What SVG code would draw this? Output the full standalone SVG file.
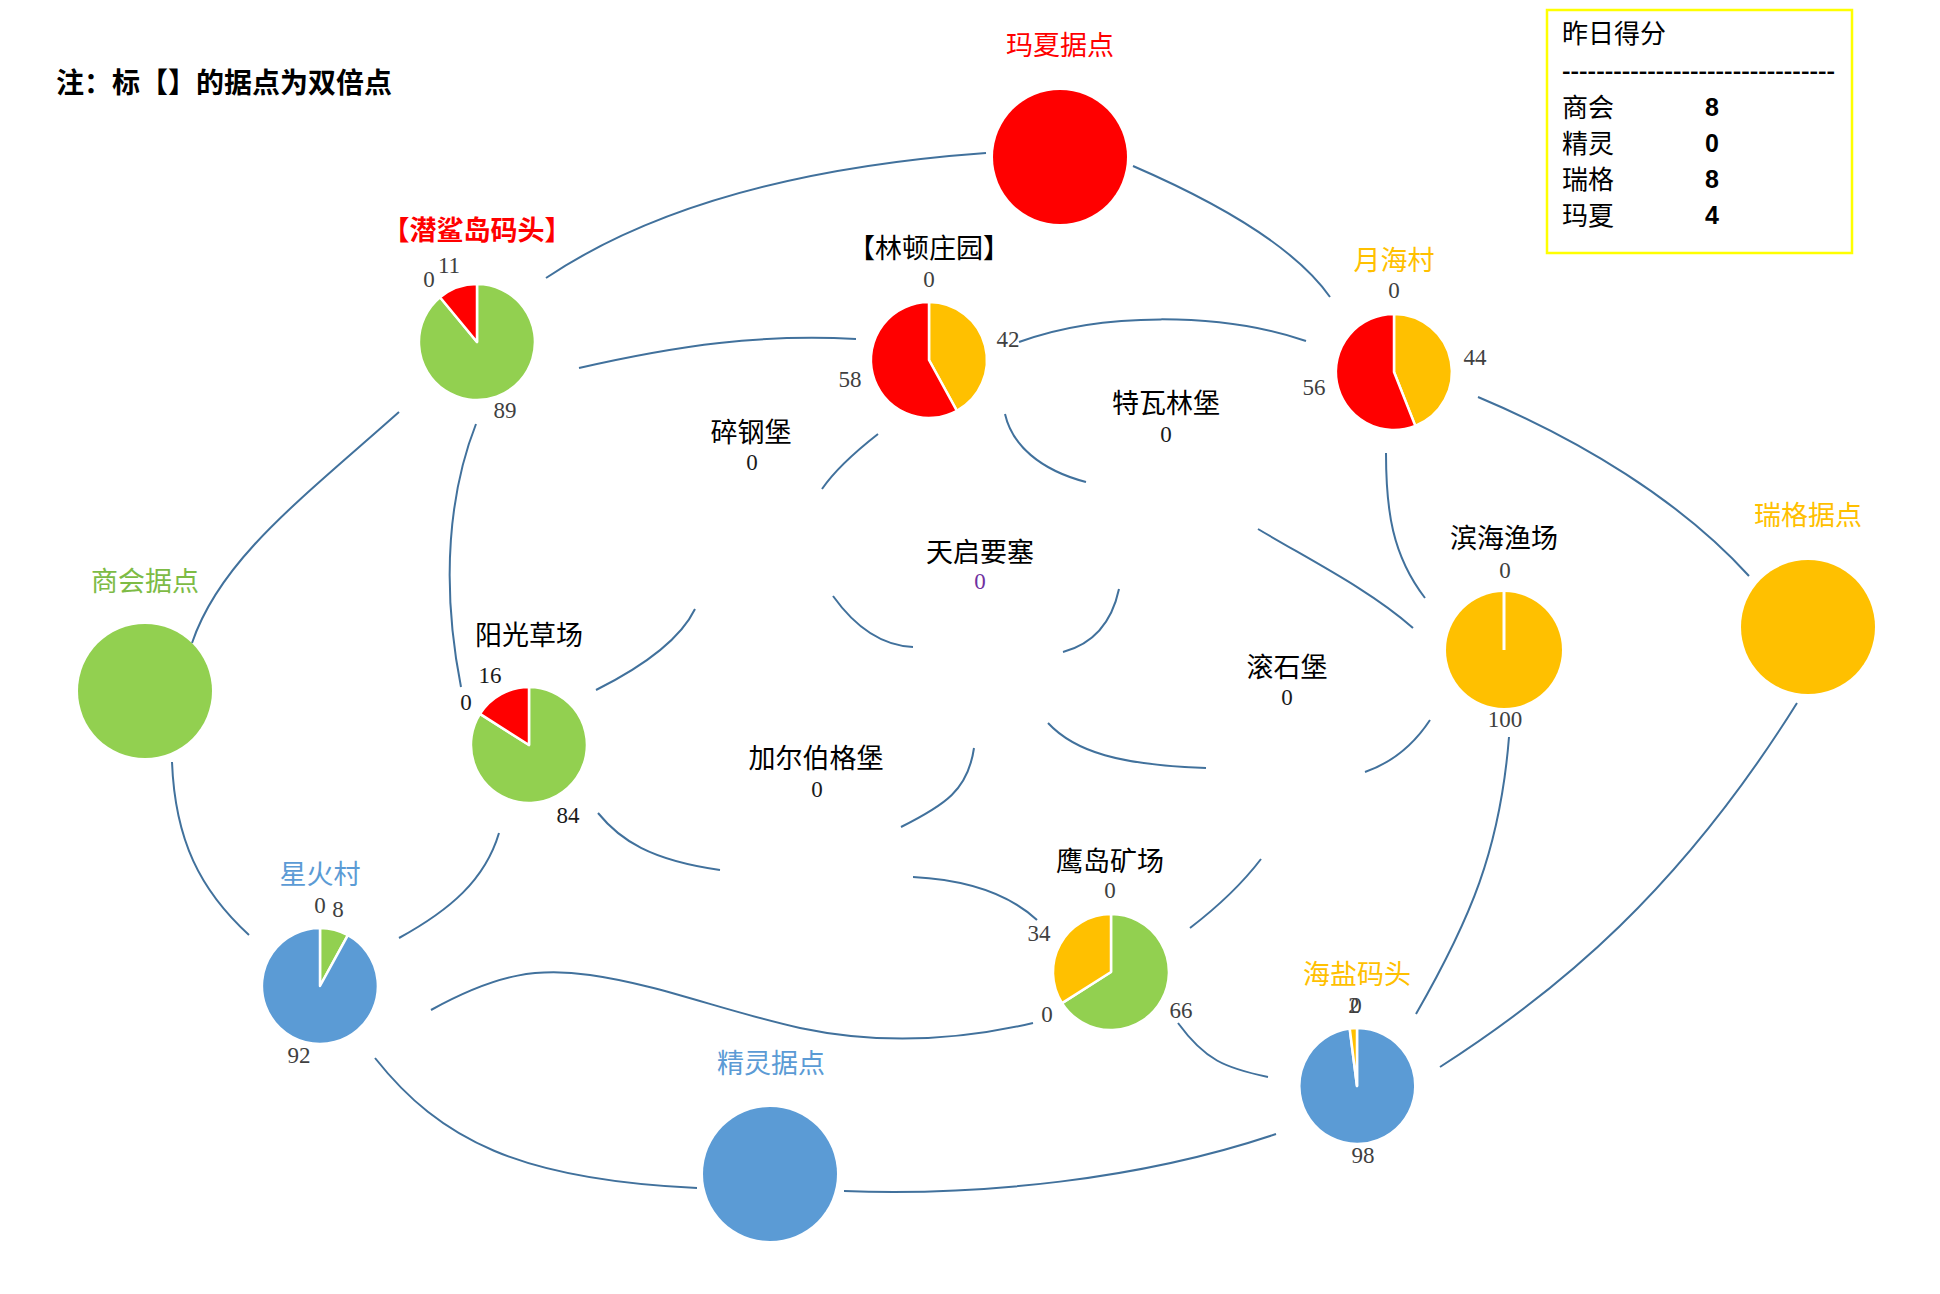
<svg xmlns="http://www.w3.org/2000/svg" width="1940" height="1294" viewBox="0 0 1940 1294">
<style>
.t{font-family:"Liberation Serif","Noto Sans CJK SC",serif;font-size:27px;text-anchor:middle;fill:#000}
.n{font-family:"Liberation Serif","Noto Sans CJK SC",serif;font-size:23px;text-anchor:middle;fill:#404040}
.k{fill:#1a1a1a}
.g{fill:#92D050}.r{fill:#FF0000}.y{fill:#FFC000}.b{fill:#5B9BD5}
.tg{fill:#7DBB45}.tr{fill:#FF0000}.ty{fill:#FFC000}.tb{fill:#5B9BD5}
.s{stroke:#fff;stroke-width:2.5;stroke-linejoin:round}
.c path{fill:none;stroke:#41719C;stroke-width:2}
.box{font-family:"Liberation Serif","Noto Sans CJK SC",serif;font-size:26px;fill:#000}
.sc{font-family:"Liberation Sans",Arial,sans-serif;font-size:25px;font-weight:bold;text-anchor:middle;fill:#000}
</style>
<rect width="1940" height="1294" fill="#fff"/>
<g id="connectors" class="c">
<path d="M546,278 C640,215 780,168 986,153"/>
<path d="M579,368 C680,345 760,334 856,339"/>
<path d="M399,412 C300,500 220,560 192,643"/>
<path d="M476,424 C450,490 440,580 461,687"/>
<path d="M596,690 C640,668 680,640 695,609"/>
<path d="M598,813 C620,840 650,860 720,870"/>
<path d="M499,833 C485,880 450,910 399,938"/>
<path d="M172,762 C175,840 200,890 249,935"/>
<path d="M431,1010 C500,972 540,968 590,975 C660,985 720,1010 800,1028 C880,1045 960,1040 1033,1023"/>
<path d="M375,1058 C440,1140 520,1180 697,1188"/>
<path d="M844,1191 C980,1196 1140,1180 1276,1134"/>
<path d="M913,877 C970,880 1010,895 1037,920"/>
<path d="M1190,928 C1220,905 1245,880 1261,859"/>
<path d="M1178,1023 C1205,1060 1225,1068 1268,1077"/>
<path d="M1416,1014 C1470,920 1500,850 1509,737"/>
<path d="M1440,1067 C1560,990 1680,890 1797,703"/>
<path d="M1478,397 C1580,440 1680,500 1749,576"/>
<path d="M1133,166 C1200,195 1290,240 1330,297"/>
<path d="M1019,342 C1100,312 1220,312 1306,341"/>
<path d="M1005,414 C1012,445 1040,470 1086,482"/>
<path d="M878,434 C855,452 835,470 822,489"/>
<path d="M833,596 Q868,645 913,647"/>
<path d="M1119,589 Q1108,640 1063,652"/>
<path d="M1258,529 C1310,560 1370,590 1413,628"/>
<path d="M1048,723 C1075,752 1120,765 1206,768"/>
<path d="M974,748 C968,790 945,805 901,827"/>
<path d="M1430,720 Q1405,758 1365,772"/>
<path d="M1386,453 C1386,510 1392,555 1425,598"/>
</g>
<g id="note"><text x="56" y="93" style="font-family:'Liberation Serif','Noto Sans CJK SC',serif;font-size:28px;font-weight:bold">注：标【】的据点为双倍点</text></g>
<g id="score">
<rect x="1547" y="10" width="305" height="243" fill="none" stroke="#FFFF00" stroke-width="2.5"/>
<text class="box" x="1562" y="43">昨日得分</text>
<text class="box" x="1562" y="78" textLength="273" lengthAdjust="spacingAndGlyphs" style="font-family:'Liberation Sans',sans-serif;font-weight:bold;font-size:20px">--------------------------------</text>
<text class="box" x="1562" y="117">商会</text><text class="sc" x="1712" y="116">8</text>
<text class="box" x="1562" y="153">精灵</text><text class="sc" x="1712" y="152">0</text>
<text class="box" x="1562" y="189">瑞格</text><text class="sc" x="1712" y="188">8</text>
<text class="box" x="1562" y="225">玛夏</text><text class="sc" x="1712" y="224">4</text>
</g>
<g id="maxia"><circle class="r" cx="1060" cy="157" r="67"/><text class="t tr" x="1060" y="55">玛夏据点</text></g>
<g id="shanghui"><circle class="g" cx="145" cy="691" r="67"/><text class="t tg" x="145" y="591">商会据点</text></g>
<g id="ruige"><circle class="y" cx="1808" cy="627" r="67"/><text class="t ty" x="1808" y="525">瑞格据点</text></g>
<g id="jingling"><circle class="b" cx="770" cy="1174" r="67"/><text class="t tb" x="771" y="1073">精灵据点</text></g>
<g id="qiansha">
<path class="g s" d="M477,342 L477,284 A58,58 0 1 1 440.0,297.3 Z"/>
<path class="r s" d="M477,342 L440.0,297.3 A58,58 0 0 1 477,284 Z"/>
<text class="t tr" x="477" y="240" font-weight="bold">【潜鲨岛码头】</text>
<text class="n" x="429" y="287">0</text><text class="n" x="449" y="273">11</text><text class="n" x="505" y="418">89</text>
</g>
<g id="linton">
<path class="y s" d="M929,360 L929,302 A58,58 0 0 1 956.9,410.8 Z"/>
<path class="r s" d="M929,360 L956.9,410.8 A58,58 0 1 1 929,302 Z"/>
<text class="t" x="929" y="258">【林顿庄园】</text>
<text class="n" x="929" y="287">0</text><text class="n" x="1008" y="347">42</text><text class="n" x="850" y="387">58</text>
</g>
<g id="yuehai">
<path class="y s" d="M1394,372 L1394,314 A58,58 0 0 1 1415.3,425.9 Z"/>
<path class="r s" d="M1394,372 L1415.3,425.9 A58,58 0 1 1 1394,314 Z"/>
<text class="t ty" x="1394" y="270">月海村</text>
<text class="n" x="1394" y="298">0</text><text class="n" x="1475" y="365">44</text><text class="n" x="1314" y="395">56</text>
</g>
<g id="yangguang">
<path class="g s" d="M529,745 L529,687 A58,58 0 1 1 480.0,713.9 Z"/>
<path class="r s" d="M529,745 L480.0,713.9 A58,58 0 0 1 529,687 Z"/>
<text class="t" x="529" y="645">阳光草场</text>
<text class="n k" x="490" y="683">16</text><text class="n k" x="466" y="710">0</text><text class="n k" x="568" y="823">84</text>
</g>
<g id="xinghuo">
<path class="g s" d="M320,986 L320,928 A58,58 0 0 1 347.9,935.2 Z"/>
<path class="b s" d="M320,986 L347.9,935.2 A58,58 0 1 1 320,928 Z"/>
<text class="t tb" x="320" y="884">星火村</text>
<text class="n" x="320" y="913">0</text><text class="n" x="338" y="917">8</text><text class="n" x="299" y="1063">92</text>
</g>
<g id="yingdao">
<path class="g s" d="M1111,972 L1111,914 A58,58 0 1 1 1062.0,1003.1 Z"/>
<path class="y s" d="M1111,972 L1062.0,1003.1 A58,58 0 0 1 1111,914 Z"/>
<text class="t" x="1110" y="871">鹰岛矿场</text>
<text class="n" x="1110" y="898">0</text><text class="n" x="1039" y="941">34</text><text class="n" x="1047" y="1022">0</text><text class="n" x="1181" y="1018">66</text>
</g>
<g id="haiyan">
<path class="b s" d="M1357,1086 L1357,1028 A58,58 0 1 1 1349.7,1028.5 Z"/>
<path class="y s" d="M1357,1086 L1349.7,1028.5 A58,58 0 0 1 1357,1028 Z"/>
<text class="t ty" x="1357" y="984">海盐码头</text>
<text class="n" x="1354" y="1013">2</text><text class="n" x="1356" y="1013">0</text><text class="n" x="1363" y="1163">98</text>
</g>
<g id="binhai">
<circle class="y" cx="1504" cy="650" r="58"/>
<line x1="1504" y1="650" x2="1504" y2="591" stroke="#fff" stroke-width="3"/>
<text class="t" x="1504" y="548">滨海渔场</text>
<text class="n" x="1505" y="578">0</text><text class="n" x="1505" y="727">100</text>
</g>
<g id="suigang"><text class="t" x="751" y="442">碎钢堡</text><text class="n k" x="752" y="470">0</text></g>
<g id="tewalin"><text class="t" x="1166" y="413">特瓦林堡</text><text class="n k" x="1166" y="442">0</text></g>
<g id="tianqi"><text class="t" x="980" y="562">天启要塞</text><text class="n" x="980" y="589" style="fill:#7030A0">0</text></g>
<g id="gunshi"><text class="t" x="1287" y="677">滚石堡</text><text class="n k" x="1287" y="705">0</text></g>
<g id="jiaerbo"><text class="t" x="816" y="768">加尔伯格堡</text><text class="n k" x="817" y="797">0</text></g>
</svg>
